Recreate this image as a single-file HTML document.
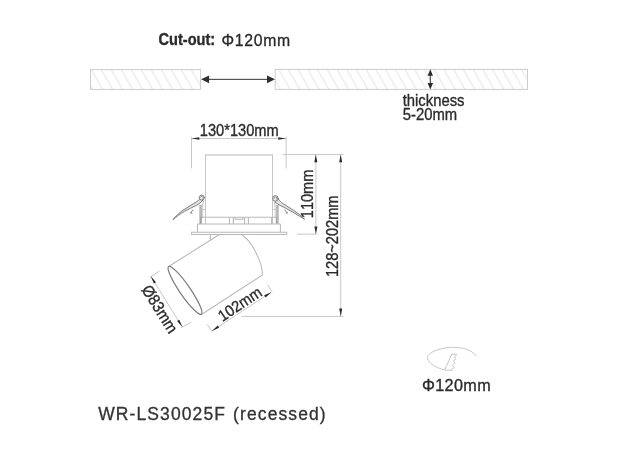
<!DOCTYPE html>
<html><head><meta charset="utf-8"><title>WR-LS30025F (recessed)</title>
<style>
html,body{margin:0;padding:0;background:#fff;}
body{width:620px;height:458px;overflow:hidden;}
svg{display:block;font-family:"Liberation Sans",Arial,sans-serif;filter:grayscale(100%);}
.t{fill:#2b2b2b;stroke:#2b2b2b;stroke-width:0.32;stroke-linejoin:round;}
.ln{stroke:#c8c8c8;stroke-width:1;fill:none;}
.pr{stroke:#b8b8b8;stroke-width:1.05;fill:none;}
.pv{stroke:#c6c6c6;stroke-width:1;fill:none;}
.cl{stroke:#8a8a8a;stroke-width:0.9;fill:none;stroke-linecap:round;}
.dk{stroke:#333;stroke-width:1;fill:none;}
</style></head>
<body>
<svg width="620" height="458" viewBox="0 0 620 458">
<defs>
<pattern id="hatchL" patternUnits="userSpaceOnUse" width="10" height="20" x="91.2" y="69.6">
  <path d="M0 0 L11.6 20 M-10 0 L1.6 20 M-20 0 L-8.4 20" stroke="#d6d6d6" stroke-width="0.75" fill="none"/>
</pattern>
<pattern id="hatchR" patternUnits="userSpaceOnUse" width="9.72" height="20" x="278.5" y="69.4">
  <path d="M0 0 L11.6 20 M-9.72 0 L1.88 20 M-19.44 0 L-7.84 20" stroke="#d6d6d6" stroke-width="0.75" fill="none"/>
</pattern>
</defs>
<rect width="620" height="458" fill="#fff"/>

<!-- ceiling -->
<rect x="90.5" y="69.6" width="110.1" height="19.8" fill="url(#hatchL)" stroke="#cdcdcd" stroke-width="1"/>
<rect x="275.2" y="69.4" width="252.3" height="20" fill="url(#hatchR)" stroke="#cdcdcd" stroke-width="1"/>
<!-- cutout arrow -->
<path class="dk" d="M205 79.35 H271" stroke-width="1.3" stroke="#3a3a3a"/>
<path d="M201.1 79.35 l8 -3.8 v7.6z M275 79.35 l-8 -3.8 v7.6z" fill="#2e2e2e"/>
<!-- thickness arrow -->
<path class="dk" d="M430.3 73 V86" stroke-width="1.5"/>
<path d="M430.3 69.2 l-2.7 6.6 h5.4z M430.3 89.6 l-2.7 -6.6 h5.4z" fill="#2a2a2a"/>

<text class="t" transform="translate(158.5 44.8) scale(1 1.08)" font-size="14.6" font-weight="bold" stroke-width="0.15">Cut-out:</text>
<text class="t" transform="translate(221.5 45.6) scale(1 1.03)" font-size="15.8" letter-spacing="0.7">Φ120mm</text>
<text class="t" transform="translate(402.7 106) scale(1 1.08)" font-size="14.85">thickness</text>
<text class="t" transform="translate(402.7 120.2) scale(1 1.05)" font-size="14.85">5-20mm</text>

<!-- 130*130 dim -->
<text class="t" transform="translate(199.8 135.7) scale(1 1.07)" font-size="14.65">130*130mm</text>
<path class="ln" d="M191.5 136.8 V168.4 M286.1 136.8 V168.4 M191.5 138.5 H286.1"/>
<path d="M191.5 138.5 l7.8 -1.3 v2.6z M286.1 138.5 l-7.8 -1.3 v2.6z" fill="#2a2a2a"/>

<!-- housing -->
<path class="pr" d="M205 154.9 H273"/><path class="pv" d="M205.5 154.9 V224 M272.5 154.9 V224"/>
<!-- band -->
<path class="pr" d="M200.8 217.3 H276.3 M200.8 217.3 V224 M276.3 217.3 V224 M197.5 224 H280.4"/>
<path class="pr" d="M229.4 217.3 V224 M233.3 217.3 V224 M244.5 217.3 V224 M248.4 217.3 V224 M271.6 217.3 V224 M235.1 217.3 V219.3 H242.8 V217.3"/>
<path class="pr" d="M197.5 224 V232.3 M280.4 224 V232.3"/>
<path class="pr" d="M191.6 232.3 H286.7 V234.5 H191.6 Z"/>

<!-- left clip -->
<g class="cl">
<path d="M199.6 199.2 C198.5 200.4 197.4 201.3 196.2 202 C192 204.8 187 207.4 182.9 210.3 C179 213 175.6 216.4 173 219.6 C176 217 180.4 213.8 184.6 211.3 C188.6 209 193 207.2 197 205 C199.2 203.8 201 202.4 203 200 Z" fill="#e2e2e2" stroke="#707070"/>
<circle cx="201.8" cy="197.6" r="2.5" fill="#f0f0f0" stroke="#707070"/>
<path d="M200.3 197.2 A1.4 1.4 0 1 1 203 198.4"/>
<path d="M192.9 209.9 L190.4 213.2 L191.8 213" stroke="#707070"/>
<path d="M200 205.4 V223.2 M201.2 205.4 V223.2" stroke="#8c8c8c"/>
<path d="M202.7 204.5 V217.3 M202.7 209.5 H205.5 M203.6 200.3 L202.8 205" stroke="#c4c4c4"/>
</g>
<!-- right clip -->
<g class="cl">
<path d="M278.4 199.1 C279.6 200.8 281 202.2 282.6 203.3 C286.4 205.8 290.4 208.2 294.2 210.7 C298 213.2 301.6 216 304.6 219.2 C301 217 297 214.6 292.6 212 C288.8 209.8 284.8 207.8 280.9 205.8 C278.8 204.8 277 203.6 275.1 202.2 Z" fill="#e2e2e2" stroke="#707070"/>
<circle cx="275.4" cy="198.4" r="2.8" fill="#f0f0f0" stroke="#707070"/>
<path d="M274 198.6 A1.5 1.5 0 1 1 276.8 199.2"/>
<path d="M284.7 209.9 L287.6 213.2 L286.2 213" stroke="#707070"/>
<path d="M278 205.4 V223.2 M276.9 205.4 V223.2" stroke="#8c8c8c"/>
<path d="M275.2 204.5 V217.3 M272.5 209.5 H275.2 M274.4 201.3 L275 205" stroke="#c4c4c4"/>
</g>

<!-- spot head -->
<path class="pr" d="M168.6 266.5 L219.4 234.5 M210.3 234.5 V239.6 M201.5 314.5 L262.2 275.2 C262.6 270 261 264 258.8 259.1 C256.8 254.4 254.6 249.8 252.1 245.6 C249 240.6 245.6 237.4 241.6 234.5"/>
<ellipse cx="185" cy="290.3" rx="28.9" ry="5.3" transform="rotate(55.5 185 290.3)" fill="none" stroke="#808080" stroke-width="1.3"/>

<!-- 110mm / 128~202mm dim -->
<path class="ln" d="M282.6 154.5 H343.6 M296.8 234.1 H317.3 M315.9 154.5 V234.1 M340.7 154.5 V316.4 M241.5 316.4 H343.5"/>
<path d="M315.8 154.5 l-1.5 7.8 h3z M315.9 234.1 l-1.5 -7.6 h3z M340.7 154.5 l-1.5 7.8 h3z M340.7 316.4 l-1.5 -7.8 h3z" fill="#2a2a2a"/>
<text class="t" font-size="14.7" style="font-kerning:none" transform="translate(312.6 218.2) rotate(-90) scale(0.99 1.06)">110mm</text>
<text class="t" font-size="14.75" transform="translate(338 277) rotate(-90) scale(0.99 1.1)">128~202mm</text>

<!-- 102mm dim -->
<path class="ln" d="M207.3 324.4 L212.3 331.9 M267.1 284.4 L272.1 291.7 M211.9 330.9 L271.4 292.1"/>
<g transform="translate(211.9 330.9) rotate(-33.1)"><path d="M0 0 l7.8 -1.3 v2.6z M71 0 l-7.8 -1.3 v2.6z" fill="#2a2a2a"/></g>
<text class="t" font-size="14.7" transform="translate(222.4 322.1) rotate(-33.6) scale(1 1.07)">102mm</text>

<!-- 83mm dim -->
<path class="ln" d="M159.7 270.8 L150 277.3 M191.2 322.2 L181 327.8 M150.8 276.3 L182.3 327"/>
<g transform="translate(150.8 276.3) rotate(58.1)"><path d="M0 0 l7.8 -1.3 v2.6z M59.7 0 l-7.8 -1.3 v2.6z" fill="#2a2a2a"/></g>
<text class="t" font-size="15" transform="translate(141 289.4) rotate(58) scale(1 1.09)">Ø83mm</text>

<!-- saw icon -->
<path class="ln" stroke="#aaa" d="M476.7 356.3 C473 351 465 348.2 457.6 347.5 C451 346.8 443 347.8 436.3 350.3 C431 352.3 427.3 355 427.5 357.8 C427.6 361.5 432 365.3 437.7 367.6 C440 368.6 442.4 369.4 444.7 369.9"/>
<path class="ln" stroke="#757575" stroke-width="0.9" d="M444.7 370.1 L451.8 354.1 L457 354.4 L454.2 357.2 L456 358.7 L453.3 361.1 L455.1 362.7 L452.4 365.4 L454.2 367.3 L451.4 369.7 L452.4 370.3 Z"/>
<text class="t" x="422" y="390.5" font-size="16.2" letter-spacing="0.35">Φ120mm</text>

<text x="98.2" y="420.4" font-size="17.5" letter-spacing="1.1" word-spacing="1.1" fill="#333" stroke="#333" stroke-width="0.3">WR-LS30025F (recessed)</text>
</svg>
</body></html>
